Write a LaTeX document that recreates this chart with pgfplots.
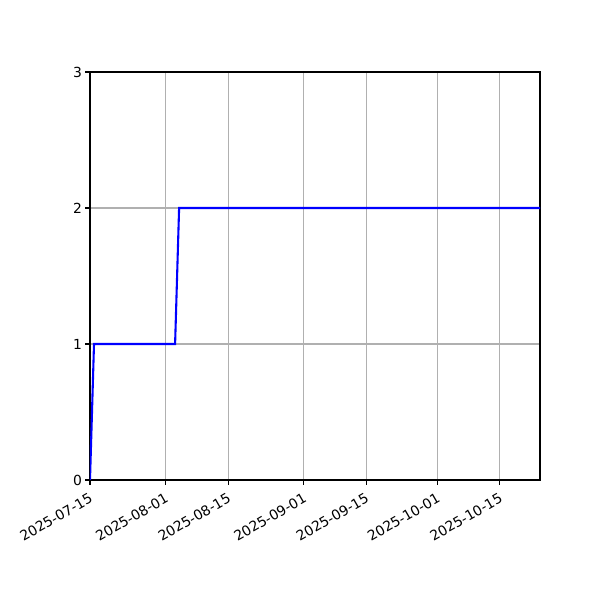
\documentclass[border=0pt]{standalone}
\usepackage{fontspec}
\setmainfont{DejaVu Sans}
\usepackage{pgfplots}
\pgfplotsset{compat=1.18}
\definecolor{gridgray}{HTML}{B0B0B0}
\begin{document}
\begin{tikzpicture}
\begin{axis}[
  at={(0,0)}, anchor=south west,
  scale only axis,
  width=324bp, height=293.76bp,
  xmin=0, xmax=101, ymin=0, ymax=3,
  xtick={0,17,31,48,62,78,92},
  xticklabels={2025-07-15,2025-08-01,2025-08-15,2025-09-01,2025-09-15,2025-10-01,2025-10-15},
  ytick={0,1,2,3},
  tick align=outside,
  xtick pos=left, ytick pos=left,
  major tick length=3.5bp,
  tick style={black, line width=0.8bp},
  axis line style={line width=0.8bp},
  grid=major,
  major grid style={gridgray, line width=0.8bp},
  tick label style={font=\fontsize{10bp}{12bp}\selectfont},
  /pgf/number format/assume math mode=true,
  xticklabel style={rotate=30, anchor=north east, inner sep=2bp, xshift=-1.5bp, yshift=-2bp},
  yticklabel style={inner sep=2bp},
]
\addplot[blue, line width=1.5bp] coordinates {
  (0,0) (0.9,1) (19.1,1) (20,2) (101,2)
};
\end{axis}
\pgfresetboundingbox
\useasboundingbox (-64.8bp,-86.4bp) rectangle (367.2bp,345.6bp);
\end{tikzpicture}
\end{document}
